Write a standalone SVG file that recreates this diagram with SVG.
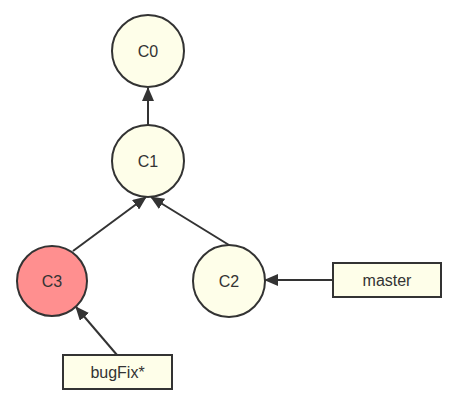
<svg xmlns="http://www.w3.org/2000/svg" width="460" height="406" viewBox="0 0 460 406">
<defs>
<marker id="arr" markerWidth="14" markerHeight="12" refX="13" refY="6" orient="auto" markerUnits="userSpaceOnUse">
<path d="M0,0 L14,6 L0,12 Z" fill="#333"/>
</marker>
<style>
.node{fill:#fefee9;stroke:#333;stroke-width:2}
.hot{fill:#ff8f8f}
.lbl{font-family:"Liberation Sans",Arial,sans-serif;font-size:16px;fill:#333;text-anchor:middle;dominant-baseline:central}
.edge{stroke:#333;stroke-width:2;fill:none;marker-end:url(#arr)}
</style>
</defs>
<rect width="460" height="406" fill="#fff"/>
<g id="edges">
<line class="edge" x1="148" y1="125" x2="148" y2="88"/>
<line class="edge" x1="73" y1="251" x2="146" y2="197"/>
<line class="edge" x1="229" y1="245" x2="151" y2="197"/>
<line class="edge" x1="333" y1="280" x2="265" y2="280"/>
<line class="edge" x1="117" y1="355" x2="76" y2="307"/>
</g>
<g id="C0"><circle class="node" cx="148" cy="51" r="36"/><text class="lbl" x="148" y="51">C0</text></g>
<g id="C1"><circle class="node" cx="148" cy="161" r="36"/><text class="lbl" x="148" y="161">C1</text></g>
<g id="C3"><circle class="node hot" cx="52" cy="281" r="35"/><text class="lbl" x="52" y="281">C3</text></g>
<g id="C2"><circle class="node" cx="229" cy="281" r="36"/><text class="lbl" x="229" y="281">C2</text></g>
<g id="master"><rect class="node" x="333" y="263" width="108" height="34"/><text class="lbl" x="387" y="280">master</text></g>
<g id="bugFix"><rect class="node" x="63" y="355" width="109" height="34"/><text class="lbl" x="117.5" y="372">bugFix*</text></g>
</svg>
